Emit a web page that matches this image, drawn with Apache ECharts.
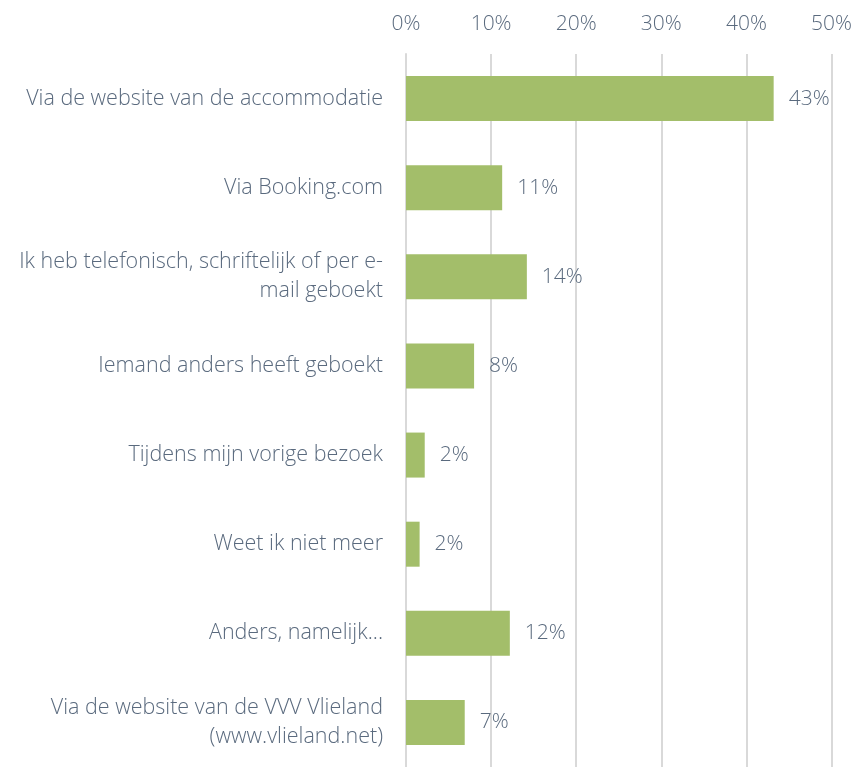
<!DOCTYPE html>
<html>
<head>
<meta charset="utf-8">
<script src="https://cdn.jsdelivr.net/npm/echarts@6/dist/echarts.min.js"></script>
<style>
  html, body { margin: 0; padding: 0; background: #fff; }
  #main { width: 855px; height: 767px; }
</style>
</head>
<body>
<div id="main"></div>
<script>
// categorieen (van boven naar beneden)
var categories = [
  'Via de website van de accommodatie',
  'Via Booking.com',
  'Ik heb telefonisch, schriftelijk of per e-\nmail geboekt',
  'Iemand anders heeft geboekt',
  'Tijdens mijn vorige bezoek',
  'Weet ik niet meer',
  'Anders, namelijk...',
  'Via de website van de VVV Vlieland\n(www.vlieland.net)'
]
// percentages
var values = [43.2, 11.3, 14.2, 8.0, 2.2, 1.6, 12.2, 6.9]
var axisMin = 0
var axisMax = 50
var axisStep = 10

var textColor = '#5a6a7e'
var lineColor = '#d9d9d9'
var font = 'Open Sans'

var myChart = echarts.init(document.getElementById('main'))

var option = {
  animation: false,
  grid: {
    left: 406,
    right: 23,
    top: 54,
    bottom: -3
  },
  xAxis: {
    type: 'value',
    position: 'top',
    min: axisMin,
    max: axisMax,
    interval: axisStep,
    axisLine: { show: false },
    axisTick: { show: false },
    axisLabel: {
      formatter: '{value}%',
      color: textColor,
      fontSize: 21,
      fontFamily: font,
      fontWeight: 300,
      margin: 19
    },
    splitLine: {
      lineStyle: { color: lineColor, width: 2 }
    }
  },
  yAxis: {
    type: 'category',
    inverse: true,
    data: categories,
    axisLine: {
      lineStyle: { color: lineColor, width: 2 }
    },
    axisTick: {
      length: 8,
      lineStyle: { color: lineColor, width: 2 }
    },
    axisLabel: {
      color: textColor,
      fontSize: 21.5,
      lineHeight: 29,
      fontFamily: font,
      fontWeight: 300,
      margin: 23,
      align: 'right'
    }
  },
  series: [
    {
      type: 'bar',
      data: values,
      barWidth: 45,
      itemStyle: { color: '#a3be6a' },
      label: {
        show: true,
        position: 'right',
        distance: 15,
        color: textColor,
        fontSize: 21,
        fontFamily: font,
        fontWeight: 300,
        formatter: function (p) {
          return Math.round(p.value) + '%'
        }
      }
    }
  ]
}

myChart.setOption(option)
</script>
</body>
</html>
